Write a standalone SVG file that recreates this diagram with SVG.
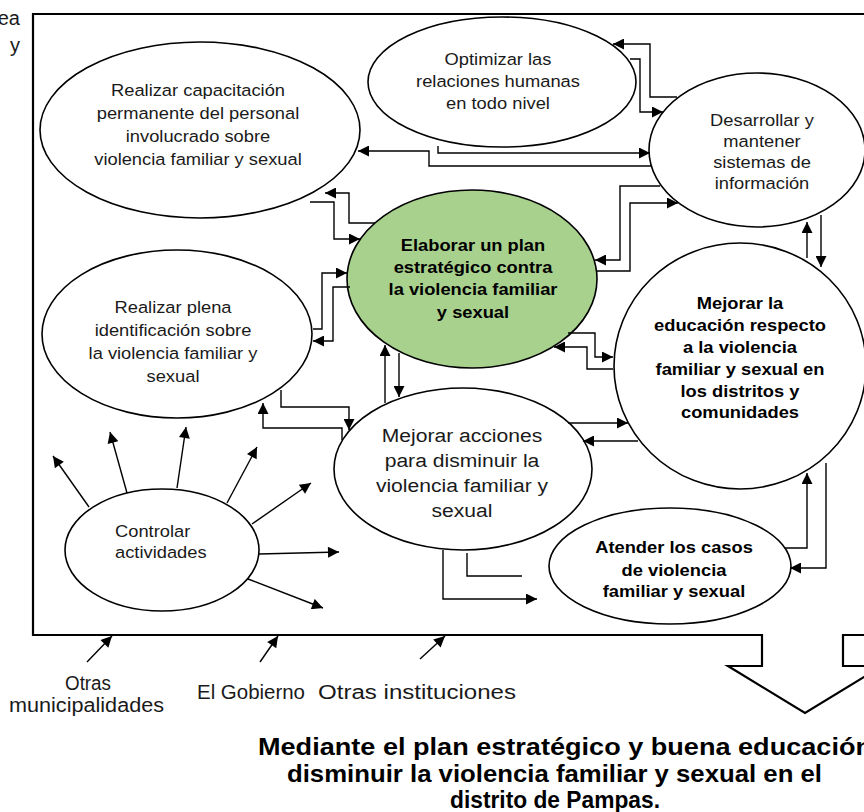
<svg xmlns="http://www.w3.org/2000/svg" width="864" height="812" viewBox="0 0 864 812">
<defs>
<marker id="ah" viewBox="0 0 10 10" refX="10" refY="5" markerWidth="13" markerHeight="11" markerUnits="userSpaceOnUse" orient="auto"><path d="M0,0 L10,5 L0,10 z" fill="#000"/></marker>
<style>
.el{fill:#fff;stroke:#000;stroke-width:1.6}
.green{fill:#a9d18e;stroke:#000;stroke-width:1.6}
.c{fill:none;stroke:#000;stroke-width:1.4}
.a{fill:none;stroke:#000;stroke-width:1.4;marker-end:url(#ah)}
.t{font-family:"Liberation Sans",Arial,sans-serif;font-size:16.5px;fill:#1a1a1a;text-anchor:middle}
.b{font-family:"Liberation Sans",Arial,sans-serif;font-size:16.5px;font-weight:bold;fill:#000;text-anchor:middle}
.frame{fill:none;stroke:#000;stroke-width:2.2}
</style>
</defs>
<rect width="864" height="812" fill="#fff"/>

<text x="20" y="25" style="font-family:'Liberation Sans',Arial,sans-serif;font-size:20px;text-anchor:end;fill:#1a1a1a">ea</text>
<text x="20" y="52" style="font-family:'Liberation Sans',Arial,sans-serif;font-size:20px;text-anchor:end;fill:#1a1a1a">y</text>

<g id="frame">
<path class="frame" d="M 880 14 H 33 V 635 H 762 V 666 H 728 L 805 713 L 882 666 H 843 V 635 H 880"/>
</g>

<g id="n1">
<ellipse class="el" cx="200" cy="130" rx="160" ry="88"/>
<g transform="translate(198 0) scale(1.11 1)">
<text class="t" x="0" y="96">Realizar capacitación</text>
<text class="t" x="0" y="119">permanente del personal</text>
<text class="t" x="0" y="142">involucrado sobre</text>
<text class="t" x="0" y="165">violencia familiar y sexual</text>
</g>
</g>

<g id="n2">
<ellipse class="el" cx="502" cy="82" rx="134" ry="65"/>
<g transform="translate(498 0) scale(1.11 1)">
<text class="t" x="0" y="65">Optimizar las</text>
<text class="t" x="0" y="87">relaciones humanas</text>
<text class="t" x="0" y="109">en todo nivel</text>
</g>
</g>

<g id="n3">
<ellipse class="el" cx="757" cy="150" rx="108" ry="77"/>
<g transform="translate(762 0) scale(1.11 1)">
<text class="t" x="0" y="126">Desarrollar y</text>
<text class="t" x="0" y="147">mantener</text>
<text class="t" x="0" y="168">sistemas de</text>
<text class="t" x="0" y="189">información</text>
</g>
</g>

<g id="n4">
<ellipse class="green" cx="472" cy="279" rx="125" ry="89"/>
<g transform="translate(473 0) scale(1.11 1)">
<text class="b" x="0" y="251">Elaborar un plan</text>
<text class="b" x="0" y="273">estratégico contra</text>
<text class="b" x="0" y="295">la violencia familiar</text>
<text class="b" x="0" y="318">y sexual</text>
</g>
</g>

<g id="n5">
<ellipse class="el" cx="177" cy="334" rx="135" ry="84"/>
<g transform="translate(173 0) scale(1.11 1)">
<text class="t" x="0" y="313">Realizar plena</text>
<text class="t" x="0" y="336">identificación sobre</text>
<text class="t" x="0" y="359">la violencia familiar y</text>
<text class="t" x="0" y="382">sexual</text>
</g>
</g>

<g id="n6">
<ellipse class="el" cx="740" cy="366" rx="126" ry="123"/>
<g transform="translate(740 0) scale(1.11 1)">
<text class="b" x="0" y="309">Mejorar la</text>
<text class="b" x="0" y="331">educación respecto</text>
<text class="b" x="0" y="353">a la violencia</text>
<text class="b" x="0" y="375">familiar y sexual en</text>
<text class="b" x="0" y="397">los distritos y</text>
<text class="b" x="0" y="418">comunidades</text>
</g>
</g>

<g id="n7">
<ellipse class="el" cx="463" cy="469" rx="129" ry="81"/>
<g transform="translate(462 0) scale(1.11 1)">
<text class="t" x="0" y="442" style="font-size:19px">Mejorar acciones</text>
<text class="t" x="0" y="467" style="font-size:19px">para disminuir la</text>
<text class="t" x="0" y="492" style="font-size:19px">violencia familiar y</text>
<text class="t" x="0" y="517" style="font-size:19px">sexual</text>
</g>
</g>

<g id="n8">
<ellipse class="el" cx="162" cy="550" rx="97" ry="61"/>
<g transform="translate(115 0) scale(1.11 1)">
<text class="t" x="0" y="537" style="text-anchor:start">Controlar</text>
<text class="t" x="0" y="558" style="text-anchor:start">actividades</text>
</g>
</g>

<g id="n9">
<ellipse class="el" cx="670" cy="566" rx="121" ry="58"/>
<g transform="translate(674 0) scale(1.11 1)">
<text class="b" x="0" y="553">Atender los casos</text>
<text class="b" x="0" y="576">de violencia</text>
<text class="b" x="0" y="597">familiar y sexual</text>
</g>
</g>

<g id="connectors">
<path class="a" d="M 677 97 H 650 V 44 H 613"/>
<path class="a" d="M 630 59 H 640 V 112 H 663"/>
<path class="a" d="M 438 146 V 153 H 650"/>
<path class="a" d="M 652 166 H 429 V 151 H 358"/>
<path class="a" d="M 660 186 H 620 V 260 H 595"/>
<path class="a" d="M 596 271 H 630 V 203 H 678"/>
<path class="a" d="M 807 258 V 222"/>
<path class="a" d="M 821 215 V 267"/>
<path class="a" d="M 375 223 H 349 V 193 H 325"/>
<path class="a" d="M 310 202 H 334 V 239 H 360"/>
<path class="a" d="M 313 329 H 322 V 273 H 347"/>
<path class="a" d="M 350 287 H 333 V 341 H 313"/>
<path class="a" d="M 385 403 V 345"/>
<path class="a" d="M 399 353 V 397"/>
<path class="a" d="M 568 333 H 595 V 357 H 613"/>
<path class="a" d="M 613 369 H 587 V 347 H 554"/>
<path class="a" d="M 568 423 H 628"/>
<path class="a" d="M 638 441 H 583"/>
<path class="a" d="M 785 548 H 807 V 473"/>
<path class="a" d="M 826 463 V 568 H 790"/>
<path class="c" d="M 467 553 V 576 H 522"/>
<path class="a" d="M 443 550 V 599 H 537"/>
<path class="a" d="M 281 390 V 407 H 349 V 430"/>
<path class="a" d="M 342 440 V 428 H 263 V 403"/>
<path class="a" d="M 89 507 L 53 456"/>
<path class="a" d="M 127 493 L 110 432"/>
<path class="a" d="M 177 488 L 186 427"/>
<path class="a" d="M 227 503 L 257 447"/>
<path class="a" d="M 252 524 L 311 483"/>
<path class="a" d="M 259 554 L 339 552"/>
<path class="a" d="M 248 579 L 323 608"/>
<path class="a" d="M 87 662 L 112 636"/>
<path class="a" d="M 260 662 L 278 636"/>
<path class="a" d="M 420 659 L 445 636"/>
</g>

<g id="labels" style="font-family:'Liberation Sans',Arial,sans-serif;font-size:20px;fill:#1a1a1a">
<text x="65" y="690" textLength="46" lengthAdjust="spacingAndGlyphs">Otras</text>
<text x="9" y="712" textLength="155" lengthAdjust="spacingAndGlyphs">municipalidades</text>
<text x="197" y="699" textLength="108" lengthAdjust="spacingAndGlyphs">El Gobierno</text>
<text x="318" y="699" textLength="198" lengthAdjust="spacingAndGlyphs">Otras instituciones</text>
</g>

<g id="conclusion" style="font-family:'Liberation Sans',Arial,sans-serif;font-size:24px;font-weight:bold;fill:#000">
<text x="258" y="755" textLength="614" lengthAdjust="spacingAndGlyphs">Mediante el plan estratégico y buena educación</text>
<text x="287" y="782" textLength="535" lengthAdjust="spacingAndGlyphs">disminuir la violencia familiar y sexual en el</text>
<text x="450" y="808" textLength="210" lengthAdjust="spacingAndGlyphs">distrito de Pampas.</text>
</g>
</svg>
